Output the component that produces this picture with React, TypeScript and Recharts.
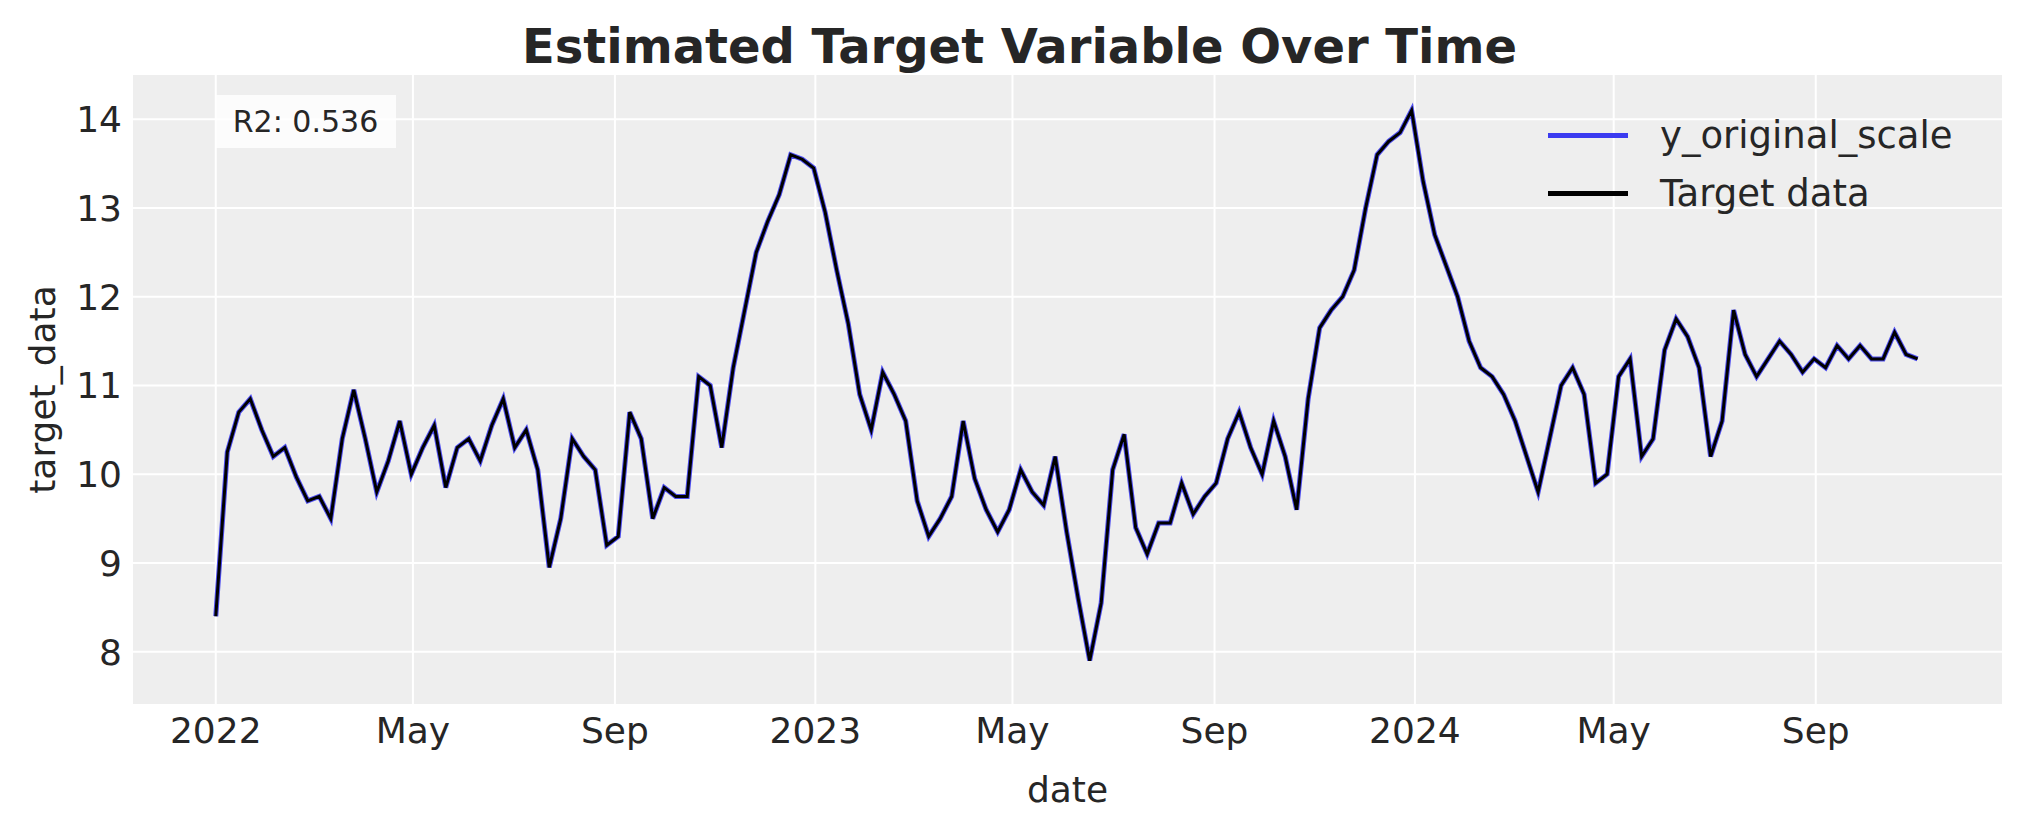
import React from 'react'
import { LineChart, Line, XAxis, YAxis, CartesianGrid } from 'recharts'

// weekly readings, week 0 = 2022-01-01
const targetValues = [
  8.4, 10.25, 10.7, 10.85, 10.5, 10.2, 10.3, 9.97, 9.7, 9.75,
  9.5, 10.4, 10.95, 10.4, 9.8, 10.15, 10.6, 10.0, 10.3, 10.55,
  9.85, 10.3, 10.4, 10.15, 10.55, 10.85, 10.3, 10.5, 10.05, 8.95,
  9.5, 10.4, 10.2, 10.05, 9.2, 9.3, 10.7, 10.4, 9.5, 9.85,
  9.75, 9.75, 11.1, 11.0, 10.3, 11.2, 11.85, 12.5, 12.85, 13.15,
  13.6, 13.55, 13.45, 12.95, 12.3, 11.7, 10.9, 10.5, 11.15, 10.9,
  10.6, 9.7, 9.3, 9.5, 9.75, 10.6, 9.95, 9.6, 9.35, 9.6,
  10.05, 9.8, 9.65, 10.2, 9.35, 8.6, 7.9, 8.55, 10.05, 10.45,
  9.4, 9.1, 9.45, 9.45, 9.9, 9.55, 9.75, 9.9, 10.4, 10.7,
  10.3, 10.0, 10.6, 10.2, 9.6, 10.85, 11.65, 11.85, 12.0, 12.3,
  13.0, 13.6, 13.75, 13.85, 14.1, 13.3, 12.7, 12.35, 12.0, 11.5,
  11.2, 11.1, 10.9, 10.6, 10.2, 9.8, 10.4, 11.0, 11.2, 10.9,
  9.9, 10.0, 11.1, 11.3, 10.2, 10.4, 11.4, 11.75, 11.55, 11.2,
  10.2, 10.6, 11.85, 11.35, 11.1, 11.3, 11.5, 11.35, 11.15, 11.3,
  11.2, 11.45, 11.3, 11.45, 11.3, 11.3, 11.6, 11.35, 11.3,
]
const predictedValues = targetValues

const xTicks = [0, 120, 243, 365, 485, 608, 730, 851, 974]
const xTickLabels = ['2022', 'May', 'Sep', '2023', 'May', 'Sep', '2024', 'May', 'Sep']
const yTicks = [8, 9, 10, 11, 12, 13, 14]

const data = targetValues.map((v, i) => ({ day: i * 7, target: v, predicted: predictedValues[i] }))

const FONT = 'DejaVu Sans, sans-serif'
const TEXT = '#262626'

const legendItems = [
  { label: 'y_original_scale', color: '#3b3bf0' },
  { label: 'Target data', color: '#000000' },
]

export default function App() {
  return (
    <div style={{ position: 'relative', width: 2000, height: 810, fontFamily: FONT }}>
      <div
        style={{
          position: 'absolute', left: 0, width: 2023, top: 12, textAlign: 'center',
          fontSize: 48, fontWeight: 'bold', color: TEXT, lineHeight: '52px',
        }}
      >
        Estimated Target Variable Over Time
      </div>
      <LineChart width={2000} height={810} data={data} margin={{ top: 66, right: 5, left: 0, bottom: 0 }}>
        <CartesianGrid fill="#eeeeee" stroke="#ffffff" strokeWidth={2} />
        <XAxis
          dataKey="day"
          type="number"
          domain={[-51, 1088]}
          ticks={xTicks}
          tickFormatter={(v: number) => xTickLabels[xTicks.indexOf(v)]}
          axisLine={false}
          tickLine={false}
          height={113}
          tick={{ fontSize: 36, fill: TEXT, fontFamily: FONT, dy: 4 }}
          label={{ value: 'date', position: 'insideBottom', offset: 16, fontSize: 36, fill: TEXT, fontFamily: FONT }}
        />
        <YAxis
          type="number"
          domain={[7.4, 14.51]}
          ticks={yTicks}
          axisLine={false}
          tickLine={false}
          width={124}
          tick={{ fontSize: 36, fill: TEXT, fontFamily: FONT, dx: -2 }}
          label={{ value: 'target_data', angle: -90, position: 'center', dx: -28, fontSize: 36, fill: TEXT, fontFamily: FONT }}
        />
        <Line dataKey="predicted" stroke="#3b3bf0" strokeWidth={5} dot={false} isAnimationActive={false} strokeOpacity={0.9} />
        <Line dataKey="target" stroke="#000000" strokeWidth={3} dot={false} isAnimationActive={false} />
      </LineChart>
      <div style={{ position: 'absolute', left: 1540, top: 98, fontSize: 37, color: TEXT }}>
        {legendItems.map((it) => (
          <div key={it.label} style={{ display: 'flex', alignItems: 'center', height: 58 }}>
            <div style={{ width: 80, height: 5, background: it.color, marginRight: 32 }} />
            <span>{it.label}</span>
          </div>
        ))}
      </div>
      <div
        style={{
          position: 'absolute', left: 207, top: 87, width: 181, height: 53,
          background: 'rgba(255,255,255,0.8)', fontSize: 30, color: TEXT,
          display: 'flex', alignItems: 'center', justifyContent: 'center',
        }}
      >
        R2: 0.536
      </div>
    </div>
  )
}
